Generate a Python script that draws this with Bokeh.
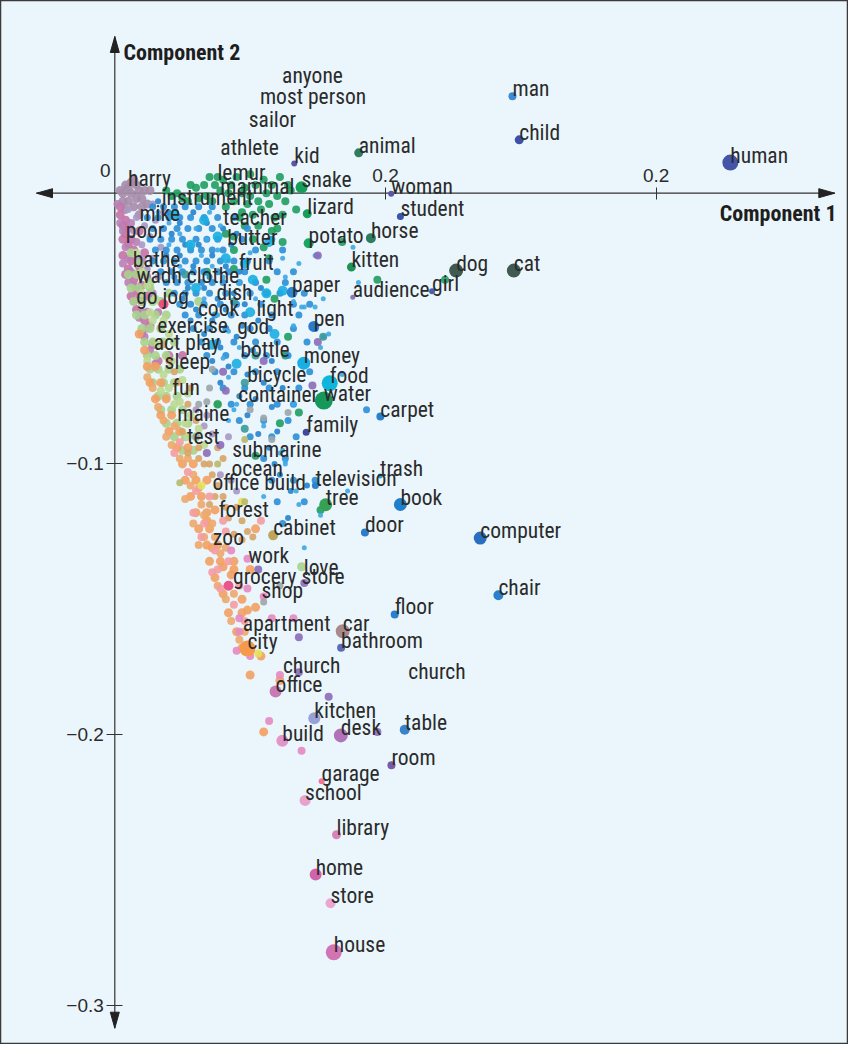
from bokeh.plotting import figure
from bokeh.models import Range1d, LinearAxis, FixedTicker, Label, ColumnDataSource
from bokeh.core.properties import value
from bokeh.embed import file_html
from bokeh.resources import INLINE

# all coordinates below are in thousandths of a component unit
K = 1000.0

words = ["anyone", "most person", "sailor", "athlete", "kid", "animal",
         "harry", "lemur", "mammal", "snake", "instrument", "lizard",
         "woman", "mike", "teacher", "student", "poor", "butter",
         "potato", "horse", "bathe", "fruit", "kitten", "wadh clothe",
         "dish", "go jog", "paper", "audience", "girl", "dog",
         "cat", "cook", "light", "pen", "exercise", "god",
         "act play", "bottle", "money", "sleep", "bicycle", "food",
         "fun", "container", "water", "carpet", "maine", "family",
         "test", "submarine", "ocean", "television", "trash", "tree",
         "book", "office build", "forest", "cabinet", "door", "zoo",
         "computer", "work", "love", "grocery store", "shop", "chair",
         "floor", "apartment", "car", "bathroom", "city", "church",
         "church", "office", "kitchen", "build", "desk", "table",
         "room", "garage", "school", "library", "home", "store",
         "house", "man", "child", "human"]

word_x = [61.8, 53.6, 49.5, 39.0, 66.3, 90.1,
          4.9, 37.9, 39.0, 69.0, 17.3, 71.1,
          102.1, 9.1, 40.0, 105.5, 4.0, 41.5,
          71.6, 94.6, 6.6, 45.8, 87.4, 8.0,
          37.6, 7.9, 65.5, 87.9, 117.2, 126.1,
          147.4, 30.7, 52.3, 73.5, 15.7, 45.2,
          14.4, 46.4, 69.8, 18.4, 48.9, 79.4,
          21.2, 45.6, 77.2, 98.1, 23.1, 70.7,
          26.7, 43.4, 43.1, 74.1, 98.0, 77.9,
          105.5, 36.1, 38.4, 58.5, 92.4, 36.3,
          135.0, 49.3, 69.8, 43.7, 54.2, 141.7,
          103.4, 47.3, 84.2, 83.6, 49.0, 62.1,
          108.4, 59.4, 73.7, 61.9, 83.5, 107.1,
          102.2, 76.4, 70.3, 81.9, 74.2, 79.7,
          80.9, 146.9, 149.4, 227.4]

word_y = [40.6, 32.8, 24.4, 14.2, 11.0, 14.9,
          2.8, 4.7, -0.2, 2.2, -4.2, -7.6,
          -0.2, -10.1, -11.6, -8.6, -16.7, -19.3,
          -18.5, -16.6, -27.3, -28.3, -27.3, -33.2,
          -39.6, -41.1, -36.6, -38.4, -36.2, -28.6,
          -28.6, -45.2, -45.2, -49.2, -51.6, -51.9,
          -57.8, -60.6, -62.8, -64.9, -69.6, -70.2,
          -74.7, -77.2, -76.6, -82.5, -84.0, -88.3,
          -92.6, -97.5, -104.3, -108.0, -104.5, -115.1,
          -115.0, -109.8, -119.7, -126.4, -125.3, -129.8,
          -127.4, -136.7, -140.9, -144.3, -149.6, -148.5,
          -155.6, -161.8, -161.8, -167.9, -168.2, -177.2,
          -179.4, -184.1, -194.0, -202.3, -200.3, -198.2,
          -211.3, -217.2, -224.3, -237.0, -251.7, -262.3,
          -280.4, 35.8, 19.7, 11.3]

dot_size = [0, 0, 0, 0, 6, 9,
            0, 0, 0, 12, 0, 9,
            6, 0, 0, 7, 0, 0,
            10, 10, 0, 0, 9, 0,
            0, 0, 11, 5, 6, 14,
            14, 0, 0, 11, 0, 0,
            0, 0, 13, 0, 0, 16,
            0, 0, 18, 8, 0, 7,
            0, 0, 0, 7, 5, 13,
            13, 0, 0, 10, 8, 0,
            13, 0, 0, 0, 0, 10,
            8, 0, 14, 8, 16, 0,
            0, 12, 12, 12, 14, 10,
            8, 6, 11, 9, 12, 10,
            16, 8, 9, 16]

dot_color = ["#fff", "#fff", "#fff", "#fff", "#5f55a8", "#2f7d5c",
             "#fff", "#fff", "#fff", "#179e5b", "#fff", "#179e5b",
             "#5a55a8", "#fff", "#fff", "#3a55b0", "#fff", "#fff",
             "#19a660", "#2e7c5f", "#fff", "#fff", "#1f9355", "#fff",
             "#fff", "#fff", "#2b88d8", "#8878c0", "#4a60b0", "#405a52",
             "#405a52", "#fff", "#fff", "#2b7acc", "#fff", "#fff",
             "#fff", "#fff", "#18aee6", "#fff", "#fff", "#0fb6da",
             "#fff", "#fff", "#15985a", "#2a80cc", "#fff", "#43489c",
             "#fff", "#fff", "#fff", "#2b84d0", "#1aa6e0", "#38a055",
             "#1f7fcc", "#fff", "#fff", "#bca65c", "#2b7ccc", "#fff",
             "#2a6ec2", "#fff", "#fff", "#fff", "#fff", "#2a80cc",
             "#2a80d0", "#fff", "#a88a8c", "#5c6cb8", "#f59a4c", "#fff",
             "#fff", "#c87ab4", "#98a0d8", "#e294cc", "#b072b8", "#3a82cc",
             "#7a5aa4", "#f07898", "#e4a4cc", "#d884bc", "#d064ac", "#eaa6d0",
             "#d274b4", "#3d8ad0", "#3f4fa5", "#4455a8"]

# unlabelled words (background cloud), by colour family
bg_mauve = [(2, 1), (4, 3), (6, 4), (7, 5), (5, 2), (8, 3), (3, 0), (6, 0), (9, 1), (8, -2),
            (10, -2), (13, 1), (5, -3), (7, -5), (10, -5), (4, -6), (9, -8), (12, -4), (3, -3), (11, 1)]
bg_pink = [(2, -8), (3, -12), (4, -15), (5, -19), (3, -23), (6, -25), (5, -28), (7, -32), (8, -36),
           (10, -40), (6, -38), (8, -43), (11, -47), (4, -10), (6, -17), (7, -21), (9, -27),
           (4, -30), (8, -30), (10, -34), (12, -38), (9, -14), (11, -22), (2, -5), (5, -13), (3, -17),
           (12, -44), (13, -49), (10, -52), (14, -56), (16, -62), (20, -60), (25, -60)]
bg_pink2 = [(1, -4), (2, -11), (3, -14), (4, -20), (5, -24), (6, -29), (7, -34), (9, -38), (10, -44),
            (12, -50), (3, -26), (5, -33), (7, -40), (9, -46), (11, -53), (13, -58), (15, -63), (6, -11),
            (8, -18), (10, -25), (12, -31), (14, -37), (16, -44), (17, -50)]
bg_lav = [(5, -6), (8, -9), (11, -12), (7, -14), (13, -16), (10, -19), (14, -24), (12, -28), (16, -31),
          (9, -24), (15, -10), (17, -20), (14, -4), (18, -7), (13, -35), (30, -80), (33, -86), (36, -89),
          (34, -82), (42, -90), (39, -104), (43, -106), (45, -110)]
bg_green = [(28, 3), (33, 3), (35, 6), (38, 6), (40, 5), (45, 6), (50, 7), (55, 5), (56, 0), (53, -3),
            (57, -4), (60, -1), (65, 1), (67, -6), (58, -14), (60, -13), (55, -20), (53, -12), (44, -16),
            (41, -15), (23, 0), (19, 1), (49, -4), (42, 0), (47, 0), (39, 1), (64, 3), (56, -32), (59, -39),
            (44, -28), (34, -29), (84, -18), (97, -32), (64, -53), (63, -60), (68, -81), (61, -85), (38, -78),
            (52, -97), (76, -117), (31, -2), (36, -3), (46, -9), (51, -8), (62, -8), (122, -32),
            (27, -3), (30, 2), (34, -1), (37, 3), (43, 3), (48, 2), (52, 3), (58, 3), (61, 6), (44, -3),
            (50, -1), (54, -6), (59, -9), (63, -3), (48, -12), (51, -17), (57, -24), (62, -18), (44, -21),
            (47, -7), (41, -5), (25, -2), (21, -1)]
bg_blue = [(14, -5), (18, -5), (22, -5), (26, -5), (31, -5), (36, -5),
           (12, -9), (16, -9), (20, -9), (24, -9), (28, -9), (33, -9), (38, -9), (44, -9),
           (14, -13), (18, -13), (23, -13), (27, -13), (31, -13), (36, -13), (49, -13),
           (13, -17), (17, -17), (21, -17), (25, -17), (30, -17), (34, -17), (38, -17), (47, -17), (58, -17),
           (15, -21), (19, -21), (23, -21), (28, -21), (32, -21), (36, -21), (40, -21), (52, -21), (62, -21),
           (14, -25), (18, -25), (22, -25), (26, -25), (30, -25), (34, -25), (39, -25), (44, -25), (49, -25),
           (57, -25), (17, -29), (21, -29), (25, -29), (29, -29), (33, -29), (38, -29), (42, -29), (48, -29),
           (60, -29), (66, -29), (19, -33), (23, -33), (27, -33), (32, -33), (36, -33), (40, -33), (46, -33),
           (52, -33), (63, -33), (22, -37), (26, -37), (30, -37), (35, -37), (41, -37), (50, -37), (56, -37),
           (61, -37), (70, -37), (24, -41), (28, -41), (33, -41), (39, -41), (45, -41), (54, -41), (66, -41),
           (72, -41), (26, -45), (31, -45), (37, -45), (43, -45), (48, -45), (58, -45), (68, -45),
           (29, -50), (35, -50), (41, -50), (50, -50), (57, -50), (66, -50), (74, -50),
           (32, -55), (38, -55), (44, -55), (52, -55), (60, -55), (71, -55),
           (34, -60), (41, -60), (48, -60), (56, -60), (64, -60),
           (37, -66), (44, -66), (52, -66), (60, -66), (72, -66),
           (40, -72), (48, -72), (57, -72), (68, -72), (43, -78), (50, -78), (60, -78), (66, -78),
           (46, -84), (55, -84), (64, -84), (50, -90), (58, -90), (67, -90), (55, -98), (63, -98),
           (58, -106), (66, -106), (74, -106), (60, -114), (70, -114), (62, -122), (93, -80)]
bg_blue2 = [(16, -3), (20, -7), (24, -11), (29, -7), (34, -11), (40, -13), (45, -15), (21, -15), (26, -19),
            (31, -19), (36, -23), (43, -19), (19, -23), (24, -23), (29, -27), (35, -31), (41, -27), (46, -29),
            (22, -31), (27, -35), (33, -35), (38, -39), (44, -37), (48, -41), (54, -35), (25, -39), (30, -43),
            (36, -47), (41, -43), (47, -49), (53, -47), (28, -47), (33, -52), (39, -57), (45, -53), (51, -58),
            (58, -62), (36, -62), (42, -64), (49, -67), (55, -70), (39, -70), (46, -75), (52, -76), (58, -79),
            (62, -72), (49, -82), (53, -89), (60, -88), (57, -94), (61, -104), (65, -110), (71, -108),
            (64, -120), (59, -100)]
bg_ltblue = [(16, -7), (20, -11), (24, -15), (28, -19), (32, -23), (36, -27), (40, -31), (20, -19), (24, -27),
             (28, -33), (33, -39), (38, -45), (42, -51), (46, -57), (30, -13), (34, -17), (38, -21), (42, -25),
             (46, -33), (52, -39), (50, -22), (62, -24), (68, -26), (74, -23), (88, -20), (75, -23), (66, -40),
             (70, -42), (74, -42), (77, -39), (66, -49), (79, -52), (77, -53), (76, -57), (84, -67), (66, -78),
             (86, -110), (76, -119), (70, -131), (67, -110), (68, -115), (63, -99), (61, -96), (55, -86),
             (55, -112), (40, -61), (42, -68), (45, -78), (44, -80), (42, -84), (62, -95), (63, -100), (35, -7),
             (39, -12), (63, -31), (69, -42), (90, -33)]
bg_cyan = [(22, -8), (38, -16), (41, -24), (51, -32), (56, -37), (28, -19), (33, -10), (48, -26), (30, -35),
           (62, -36), (50, -44), (59, -52), (36, -56), (45, -63), (57, -18)]
bg_teal = [(48, -70), (48, -87), (44, -40), (26, -30), (52, -60), (77, -53)]
bg_ltgreen = [(5, -30), (8, -30), (11, -30), (6, -35), (9, -35), (13, -35), (7, -40), (10, -40), (14, -40),
              (17, -40), (8, -45), (11, -45), (15, -45), (19, -45), (10, -50), (13, -50), (17, -50), (11, -55),
              (14, -55), (18, -55), (22, -55), (12, -60), (15, -60), (19, -60), (13, -65), (16, -65), (20, -65),
              (24, -65), (14, -70), (18, -70), (22, -70), (16, -75), (19, -75), (23, -75), (17, -80), (21, -80),
              (25, -80), (19, -85), (23, -85), (27, -85), (22, -90), (26, -90), (30, -90), (25, -95), (29, -95),
              (6, -22), (9, -26), (13, -33), (20, -37), (31, -40), (69, -138), (38, -78)]
bg_ltgreen2 = [(8, -22), (10, -29), (12, -34), (15, -39), (18, -47), (20, -52), (16, -56), (21, -62), (25, -69),
               (27, -74), (20, -72), (24, -77), (28, -82), (31, -87), (27, -90), (33, -93), (10, -37), (13, -44),
               (18, -67), (22, -78), (26, -85), (14, -47), (12, -62), (17, -73)]
bg_orange = [(9, -52), (11, -58), (12, -64), (15, -64), (13, -70), (17, -70), (15, -76), (19, -76), (17, -82),
             (21, -82), (20, -88), (24, -88), (23, -94), (27, -94), (25, -100), (29, -100), (26, -106),
             (30, -106), (34, -106), (28, -112), (32, -112), (30, -118), (34, -118), (31, -124), (35, -124),
             (34, -130), (38, -130), (35, -136), (39, -136), (37, -142), (40, -148), (42, -155), (47, -155),
             (45, -162), (47, -168), (50, -178), (55, -199), (61, -180), (36, -131), (34, -121), (37, -117),
             (44, -136), (40, -138), (43, -141), (44, -139), (50, -139), (47, -150), (49, -154), (52, -153),
             (54, -171), (52, -124)]
bg_orange2 = [(19, -90), (21, -93), (24, -98), (27, -98), (29, -104), (31, -109), (28, -108), (32, -115),
              (33, -119), (36, -122), (33, -127), (37, -127), (39, -133), (41, -131), (38, -145), (41, -150),
              (43, -158), (46, -165), (44, -148), (48, -162), (16, -79), (18, -84), (22, -86), (14, -72),
              (12, -68), (26, -113), (29, -122), (31, -130)]
bg_tan = [(20, -62), (23, -70), (27, -78), (25, -88), (31, -94), (33, -100), (36, -104), (38, -108), (35, -115),
          (40, -112), (42, -120), (44, -126), (47, -128), (49, -125), (51, -127), (40, -98), (30, -84),
          (45, -116), (18, -56), (22, -66), (28, -72), (38, -94), (27, -96), (31, -98), (35, -100), (37, -112),
          (41, -116), (47, -121)]
bg_peach = [(27, -103), (30, -110), (29, -118), (33, -122), (37, -132), (36, -140), (38, -139), (39, -146),
            (44, -152), (48, -158), (46, -145), (42, -136), (41, -125), (40, -121), (54, -121), (22, -96),
            (24, -92), (32, -127), (35, -112)]
bg_rose = [(46, -162), (49, -146), (50, -171), (58, -157), (66, -157), (45, -169), (46, -157), (55, -149),
           (61, -178), (57, -195), (69, -206), (59, -184), (49, -135), (43, -132)]
bg_magenta = [(42, -145), (18, -41)]
bg_yellow = [(53, -170), (47, -114), (32, -108)]
bg_purple = [(53, -139), (68, -164), (79, -186), (68, -177), (39, -93), (41, -73), (40, -66), (55, -62),
             (73, -71), (75, -55), (97, -199), (70, -144), (34, -96), (75, -23)]
bg_gray = [(31, -78), (34, -77), (35, -72), (36, -65), (55, -83), (64, -81), (58, -91), (50, -80), (61, -145),
           (55, -151), (30, -90)]
bg_olive = [(48, -91), (48, -114), (24, -107), (38, -100)]

# style of each background family: (points, colour, size)
bg_styles = [(bg_mauve, "#a68ca8", 9), (bg_pink, "#c672a8", 9), (bg_pink2, "#b980b4", 8),
             (bg_lav, "#a898c4", 7), (bg_ltgreen, "#a9d28c", 9), (bg_ltgreen2, "#bcd992", 8),
             (bg_green, "#1f9f5f", 8), (bg_blue, "#2b8fd6", 7), (bg_blue2, "#2384cc", 6),
             (bg_ltblue, "#3ea8e6", 5), (bg_cyan, "#19aee0", 10), (bg_teal, "#3a9a9c", 8),
             (bg_orange, "#f3a062", 9), (bg_orange2, "#eea86c", 8), (bg_tan, "#d8a466", 7),
             (bg_peach, "#f59ca2", 8), (bg_rose, "#e68ac2", 8), (bg_magenta, "#e8457e", 10),
             (bg_yellow, "#e6e05a", 8), (bg_purple, "#8c6cb8", 8), (bg_gray, "#9ca6aa", 7),
             (bg_olive, "#b8b86c", 7)]

x_ticks = [0.1, 0.2]
x_tick_labels = ["0.2", "0.2"]
y_ticks = [-0.1, -0.2, -0.3]
y_tick_labels = ["\u22120.1", "\u22120.2", "\u22120.3"]

WORD_FONT = "'Liberation Sans Narrow', 'Roboto Condensed', 'Arial Narrow', 'DejaVu Sans Condensed', sans-serif"
TICK_FONT = "Liberation Sans"
INK = "#2b2b2b"

PX = 2707.0  # pixels per component unit
W, H = 848, 1044
x0 = -114.3 / PX
y1 = 192.7 / PX
p = figure(width=W, height=H, x_range=Range1d(x0, x0 + W / PX), y_range=Range1d(y1 - H / PX, y1),
           output_backend="svg", toolbar_location=None, min_border=0,
           x_axis_type=None, y_axis_type=None)
p.background_fill_color = "#eaf6fc"
p.border_fill_color = "white"
p.outline_line_color = "#3a3a3a"
p.outline_line_width = 1.5

# axis lines with arrow heads
ax_left, ax_right = -78.3 / PX, 720.0 / PX
ay_top, ay_bottom = 156.7 / PX, -835.0 / PX
hl, hw = 16 / PX, 4.5 / PX
p.segment(x0=[ax_left, 0], y0=[0, ay_bottom], x1=[ax_right, 0], y1=[0, ay_top],
          line_color="#333333", line_width=1.2)
p.patches(xs=[[ax_left, ax_left + hl, ax_left + hl], [ax_right, ax_right - hl, ax_right - hl],
              [0, -hw, hw], [0, -hw, hw]],
          ys=[[0, hw, -hw], [0, hw, -hw],
              [ay_top, ay_top - hl, ay_top - hl], [ay_bottom, ay_bottom + hl, ay_bottom + hl]],
          fill_color="#222222", line_color="#222222")

xa = LinearAxis(fixed_location=0, ticker=FixedTicker(ticks=x_ticks),
                major_label_overrides=dict(zip(x_ticks, x_tick_labels)),
                axis_line_color=None, major_tick_in=6, major_tick_out=6,
                major_tick_line_color="#333333", minor_tick_line_color=None,
                major_label_text_font=TICK_FONT, major_label_text_font_size="19px",
                major_label_text_color=INK, major_label_standoff=5)
p.add_layout(xa, "above")
ya = LinearAxis(fixed_location=0, ticker=FixedTicker(ticks=y_ticks),
                major_label_overrides=dict(zip(y_ticks, y_tick_labels)),
                axis_line_color=None, major_tick_in=8, major_tick_out=8,
                major_tick_line_color="#333333", minor_tick_line_color=None,
                major_label_text_font=TICK_FONT, major_label_text_font_size="19px",
                major_label_text_color=INK, major_label_standoff=3)
p.add_layout(ya, "left")

for pts, col, sz in bg_styles:
    p.scatter([a / K for a, b in pts], [b / K for a, b in pts], size=sz,
              fill_color=col, line_color=None, fill_alpha=0.9)

dsrc = ColumnDataSource(dict(
    x=[v / K for v, s in zip(word_x, dot_size) if s > 0],
    y=[v / K for v, s in zip(word_y, dot_size) if s > 0],
    size=[s for s in dot_size if s > 0],
    color=[c for c, s in zip(dot_color, dot_size) if s > 0]))
p.scatter("x", "y", size="size", fill_color="color", line_color=None, source=dsrc)

wsrc = ColumnDataSource(dict(x=[v / K for v in word_x], y=[v / K for v in word_y], text=words))
p.text("x", "y", text="text", source=wsrc, text_font=value(WORD_FONT), text_font_size="21.5px",
       text_color=INK, text_align="left", text_baseline="middle", y_offset=-7.5)

p.add_layout(Label(x=-4.3 / PX, y=22.7 / PX, text="0", text_align="right", text_baseline="middle",
                   text_font=TICK_FONT, text_font_size="19px", text_color=INK))
p.add_layout(Label(x=8.7 / PX, y=140.7 / PX, text="Component 2", text_align="left",
                   text_baseline="middle", text_font=WORD_FONT, text_font_style="bold",
                   text_font_size="22px", text_color="#1e1e1e"))
p.add_layout(Label(x=721.7 / PX, y=-20.3 / PX, text="Component 1", text_align="right",
                   text_baseline="middle", text_font=WORD_FONT, text_font_style="bold",
                   text_font_size="22px", text_color="#1e1e1e"))

open("out.html", "w").write(file_html(p, INLINE))
